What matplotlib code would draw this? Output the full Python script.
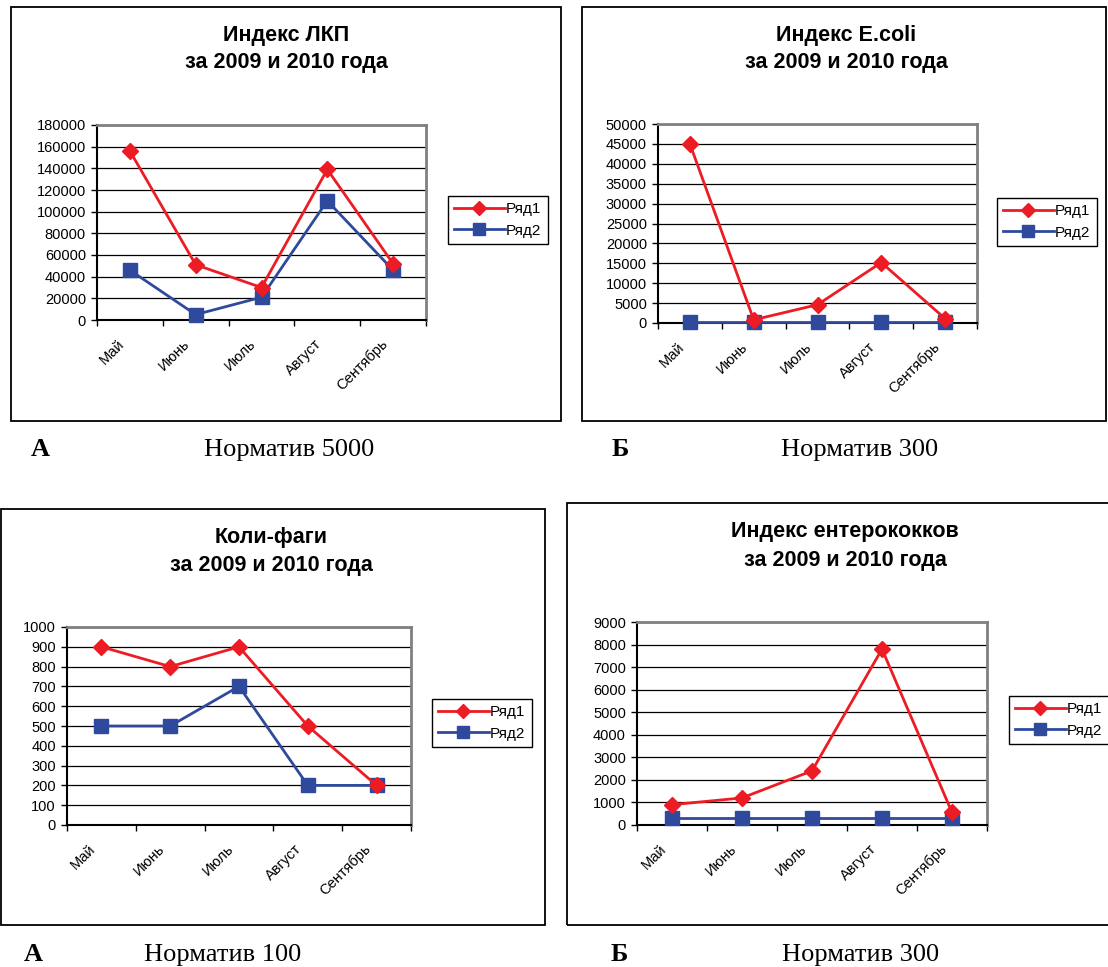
import matplotlib
matplotlib.use('Agg')
import matplotlib.pyplot as plt
from matplotlib.patches import Rectangle
from matplotlib.transforms import ScaledTranslation

W, H = 1108, 967

months = ['Май', 'Июнь', 'Июль', 'Август', 'Сентябрь']

# Индекс ЛКП
lkp_r1 = [156000, 51000, 30000, 139000, 52000]
lkp_r2 = [46000, 5000, 21000, 110000, 46000]
# Индекс E.coli
ecoli_r1 = [45000, 800, 4600, 15200, 1100]
ecoli_r2 = [200, 200, 200, 200, 200]
# Коли-фаги
coli_r1 = [900, 800, 900, 500, 200]
coli_r2 = [500, 500, 700, 200, 200]
# Индекс ентерококков
entero_r1 = [900, 1200, 2400, 7800, 560]
entero_r2 = [300, 300, 300, 300, 300]

RED = '#ED1C24'
BLUE = '#2F4A9C'


def fx(x):
    return x / W


def fy(y):
    return 1 - y / H


def draw_panel(fig, border, plot, legend_xy, titles, title_x, title_ys,
               r1, r2, ymax, ystep, letter, letter_x, norm, norm_x, cap_y):
    # panel frame
    bx0, by0, bx1, by1 = border
    fig.add_artist(Rectangle((fx(bx0), fy(by1)), (bx1 - bx0) / W, (by1 - by0) / H,
                             transform=fig.transFigure, fill=False,
                             edgecolor='black', linewidth=1.3))

    px0, py0, px1, py1 = plot
    ax = fig.add_axes([fx(px0), fy(py1), (px1 - px0) / W, (py1 - py0) / H])

    xc = [i + 0.5 for i in range(len(months))]
    ax.plot(xc, r2, color=BLUE, lw=2, marker='s', ms=10.5, mfc=BLUE, mec=BLUE,
            label='Ряд2', zorder=3, clip_on=False)
    ax.plot(xc, r1, color=RED, lw=2, marker='D', ms=8.5, mfc=RED, mec=RED,
            label='Ряд1', zorder=4, clip_on=False)

    ax.set_xlim(0, len(months))
    ax.set_ylim(0, ymax)
    yt = list(range(0, ymax + 1, ystep))
    ax.set_yticks(yt)
    ax.set_yticklabels([str(v) for v in yt])
    ax.set_xticks(range(len(months) + 1))
    ax.set_xticklabels([])

    # rotated month names, end of text just left of the category centre
    off = ScaledTranslation(-0.08, -0.22, fig.dpi_scale_trans)
    for x, m in zip(xc, months):
        ax.text(x, 0, m, transform=ax.get_xaxis_transform() + off,
                rotation=45, ha='right', va='center', rotation_mode='anchor',
                fontsize=10.5)

    ax.tick_params(axis='y', direction='out', length=4, width=1, pad=4, labelsize=10.5)
    ax.tick_params(axis='x', which='major', direction='out', length=4, width=1)

    ax.yaxis.grid(True, color='black', linewidth=0.9)
    ax.set_axisbelow(True)
    for side in ['left', 'bottom']:
        ax.spines[side].set_color('black')
        ax.spines[side].set_linewidth(1.5)
    for side in ['top', 'right']:
        ax.spines[side].set_color('#808080')
        ax.spines[side].set_linewidth(2)

    handles, labels = ax.get_legend_handles_labels()
    leg = ax.legend(handles[::-1], labels[::-1], loc='upper left',
                    bbox_to_anchor=(fx(legend_xy[0]), fy(legend_xy[1])),
                    bbox_transform=fig.transFigure, fancybox=False,
                    edgecolor='black', framealpha=1, fontsize=11,
                    handlelength=3.3, handletextpad=0.1, borderaxespad=0,
                    borderpad=0.4, labelspacing=0.5, markerscale=0.85)
    leg.get_frame().set_linewidth(1)

    for t, y in zip(titles, title_ys):
        fig.text(fx(title_x), fy(y), t, ha='center', va='baseline',
                 fontsize=15.5, fontweight='bold')

    fig.text(fx(letter_x), fy(cap_y), letter, ha='center', va='baseline',
             fontsize=19, fontweight='bold', family=['Liberation Serif'])
    fig.text(fx(norm_x), fy(cap_y), norm, ha='center', va='baseline',
             fontsize=19, family=['Liberation Serif'])
    return ax


def main():
    plt.rcParams['font.family'] = ['Liberation Sans', 'DejaVu Sans']
    fig = plt.figure(figsize=(W / 100, H / 100), dpi=100)

    draw_panel(fig, (11, 7, 561, 421), (97, 125, 426, 320), (448, 196),
               ['Индекс ЛКП', 'за 2009 и 2010 года'], 286, (41, 68),
               lkp_r1, lkp_r2, 180000, 20000,
               'А', 40, 'Норматив 5000', 289, 456)

    draw_panel(fig, (582, 7, 1106, 421), (658, 124, 977, 323), (997, 198),
               ['Индекс E.coli', 'за 2009 и 2010 года'], 846, (41, 68),
               ecoli_r1, ecoli_r2, 50000, 5000,
               'Б', 620, 'Норматив 300', 860, 456)

    draw_panel(fig, (1, 509, 545, 925), (67, 627, 411, 825), (432, 699),
               ['Коли-фаги', 'за 2009 и 2010 года'], 271, (543, 571),
               coli_r1, coli_r2, 1000, 100,
               'А', 33, 'Норматив 100', 223, 961)

    draw_panel(fig, (567, 503, 1120, 925), (637, 622, 987, 825), (1009, 696),
               ['Индекс ентерококков', 'за 2009 и 2010 года'], 845, (537, 566),
               entero_r1, entero_r2, 9000, 1000,
               'Б', 619, 'Норматив 300', 861, 961)

    fig.savefig('out.png', dpi=100, facecolor='white')


if __name__ == "__main__":
    main()
